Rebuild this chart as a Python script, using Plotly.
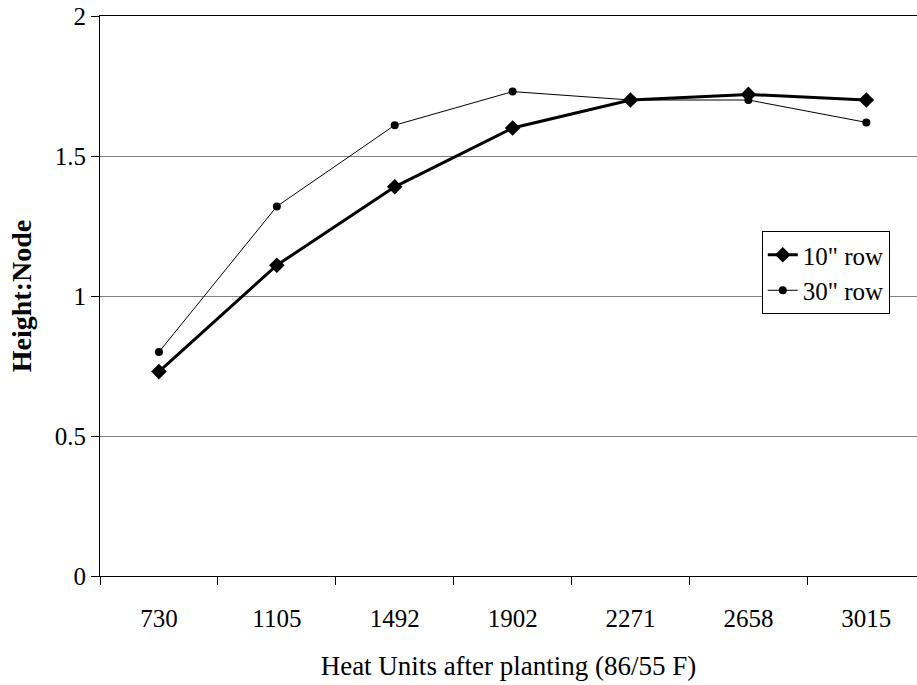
import plotly.graph_objects as go

categories = ["730", "1105", "1492", "1902", "2271", "2658", "3015"]
row10 = [0.73, 1.11, 1.39, 1.60, 1.70, 1.72, 1.70]
row30 = [0.80, 1.32, 1.61, 1.73, 1.70, 1.70, 1.62]
y_ticks = [0, 0.5, 1, 1.5, 2]
y_ticklabels = ["0", "0.5", "1", "1.5", "2"]

font = "Liberation Serif, Times New Roman, serif"

fig = go.Figure()
fig.add_trace(go.Scatter(
    x=categories, y=row10, name='10" row', mode="lines+markers",
    line=dict(color="black", width=3),
    marker=dict(symbol="diamond", size=12, color="black"),
))
fig.add_trace(go.Scatter(
    x=categories, y=row30, name='30" row', mode="lines+markers",
    line=dict(color="black", width=1),
    marker=dict(symbol="circle", size=8, color="black"),
))

fig.update_layout(
    width=917, height=685,
    margin=dict(l=100, r=0, t=16, b=109),
    paper_bgcolor="white", plot_bgcolor="white",
    font=dict(family=font, size=25, color="black"),
    showlegend=True,
    legend=dict(
        x=0.81, y=0.616, xanchor="left", yanchor="top",
        bordercolor="black", borderwidth=1, bgcolor="white",
        font=dict(size=25, family=font), tracegroupgap=0,
        itemwidth=30,
    ),
    xaxis=dict(
        type="category", range=[-0.5, 6.43], automargin=False,
        tickson="boundaries", ticks="outside", ticklen=8, tickcolor="black",
        showline=True, linecolor="black", linewidth=1, showgrid=False,
        mirror=True,
        tickfont=dict(size=25, family=font), ticklabelstandoff=20,
        title=dict(text="Heat Units after planting (86/55 F)", font=dict(size=27, family=font), standoff=25),
    ),
    yaxis=dict(
        range=[0, 2], tickvals=y_ticks, ticktext=y_ticklabels, automargin=False,
        ticks="outside", ticklen=8, tickcolor="black",
        showline=True, linecolor="black", linewidth=1,
        showgrid=True, gridcolor="#808080", gridwidth=1,
        zeroline=False,
        tickfont=dict(size=25, family=font),
        title=dict(text="<b>Height:Node</b>", font=dict(size=28, family=font), standoff=14),
    ),
)

fig.write_html("out.html", config={"displayModeBar": False},
               post_script="document.body.style.margin='0';")
